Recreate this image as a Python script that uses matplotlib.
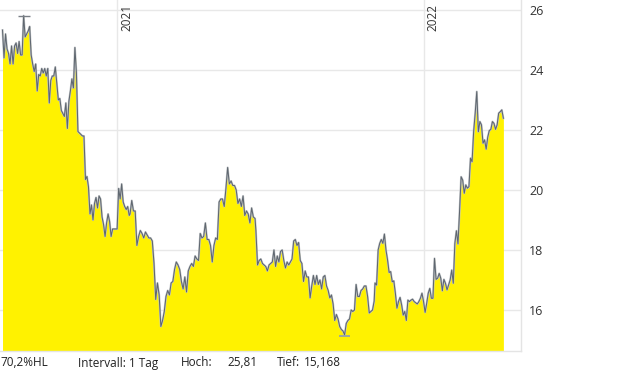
import pandas as pd
import numpy as np
import matplotlib
matplotlib.use('Agg')
import matplotlib.pyplot as plt

plt.rcParams['font.family'] = ['Open Sans', 'DejaVu Sans']

# price series in four stretches (start date, end date, values)
seg_a = ('2020-08-17', '2021-01-15',
         [25.33, 24.4, 25.2, 24.7, 24.55, 24.2, 24.8, 24.2, 24.8, 24.9, 24.55, 24.95, 24.5, 24.5, 25.81,
          25.1, 25.2, 25.3, 25.45, 24.5, 24.2, 23.95, 24.2, 23.3, 23.85, 23.8, 24.05, 23.9, 24.05, 23.8,
          24.05, 22.9, 23.65, 23.8, 23.8, 24.1, 23.55, 23.0, 23.05, 22.65, 22.55, 22.45, 22.9, 22.05, 22.95,
          23.3, 23.7, 23.4, 24.75, 23.9, 21.95, 21.9, 21.85, 21.8, 21.8, 20.35, 20.45, 20.1, 19.2, 19.5,
          19.0, 19.55, 19.75, 19.4, 19.8, 19.7, 19.1, 18.85, 18.45, 18.9, 19.2, 18.95, 18.45, 18.7, 18.7,
          18.7, 18.7, 20.05, 19.7, 20.2, 19.6, 19.45, 19.35, 19.45, 19.15])
seg_b = ('2021-01-16', '2021-06-14',
         [19.2, 19.65, 19.3, 19.3, 18.15, 18.45, 18.65, 18.55, 18.4, 18.6, 18.5, 18.4, 18.4, 18.3, 17.55,
          16.35, 16.9, 16.5, 15.45, 15.65, 15.95, 16.45, 16.65, 16.5, 16.9, 16.95, 17.35, 17.6, 17.5, 17.35,
          16.95, 16.7, 17.1, 16.6, 17.3, 17.45, 17.55, 17.45, 17.8, 17.7, 17.65, 18.55, 18.4, 18.45, 18.9,
          18.35, 18.35, 18.15, 17.6, 18.15, 18.4, 18.35, 19.6, 19.7, 19.7, 19.45, 20.05, 20.75, 20.2, 20.3,
          20.15, 20.15, 20.0, 19.55, 19.7, 19.45, 19.8, 19.15, 19.3, 19.2, 18.9, 19.4, 19.1, 19.05])
seg_c = ('2021-06-15', '2021-11-03',
         [18.65, 17.5, 17.65, 17.7, 17.55, 17.5, 17.45, 17.3, 17.5, 17.55, 17.6, 18.0, 17.45, 17.8, 17.6,
          17.95, 18.0, 17.65, 17.4, 17.6, 17.5, 17.6, 17.7, 18.3, 18.35, 18.15, 18.25, 17.65, 17.55, 16.95,
          17.3, 17.1, 17.1, 16.4, 16.8, 17.15, 16.85, 17.15, 16.85, 17.0, 16.7, 17.1, 17.15, 16.8, 16.65,
          16.4, 16.5, 16.2, 15.65, 15.85, 15.7, 15.45, 15.35, 15.3, 15.168, 15.55, 15.65, 15.7, 16.0, 15.95,
          16.0, 16.85, 16.45, 16.45, 16.65, 16.7, 16.8, 16.8, 16.45, 15.9, 15.95, 16.0, 16.3])
seg_d = ('2021-11-04', '2022-04-06',
         [16.9, 16.83, 18.0, 18.22, 18.35, 18.22, 18.53, 18.0, 17.67, 17.25, 17.28, 16.94, 16.97, 16.56,
          16.06, 16.28, 16.42, 16.17, 15.83, 15.95, 15.65, 16.33, 16.28, 16.33, 16.36, 16.28, 16.24, 16.2,
          16.28, 16.39, 16.56, 16.28, 15.92, 16.22, 16.56, 16.72, 16.39, 16.39, 17.72, 17.02, 17.06, 17.22,
          17.06, 16.64, 17.02, 16.89, 16.67, 16.83, 17.0, 17.33, 16.89, 18.22, 18.64, 18.2, 19.28, 20.44,
          20.33, 19.89, 20.17, 20.06, 20.11, 21.06, 20.94, 21.94, 22.56, 23.28, 21.94, 22.28, 22.17, 21.56,
          21.67, 21.36, 21.76, 21.98, 22.02, 22.28, 22.22, 22.02, 22.17, 22.56, 22.61, 22.67, 22.39])

y_ticks = [16, 18, 20, 22, 24, 26]
years = ['2021-01-01', '2022-01-01']
footer = [('70,2%HL', 0), ('Intervall: 1 Tag', 78), ('Hoch:', 181), ('25,81', 227), ('Tief:', 277), ('15,168', 304)]

dates = []
values = []
for start, end, vals in [seg_a, seg_b, seg_c, seg_d]:
    dates.extend(pd.date_range(start, end, periods=len(vals)))
    values.extend(vals)
df = pd.DataFrame({'Date': dates, 'Close': values})

fig = plt.figure(figsize=(6.2, 3.72), dpi=100)
ax = fig.add_axes([0, 1 - 351/372, 521/620, 351/372])

ax.fill_between(df['Date'], df['Close'], 14.0, color='#fff200', linewidth=0, zorder=2)
ax.plot(df['Date'], df['Close'], color='#c4c7ca', linewidth=1.5, zorder=3)
ax.plot(df['Date'], df['Close'], color='#5f6770', linewidth=0.75, zorder=4)

# high / low markers
hi = df.loc[df['Close'].idxmax()]
lo = df.loc[df['Close'].idxmin()]
half = pd.Timedelta(days=7)
ax.hlines(hi['Close'], hi['Date'] - half, hi['Date'] + half, color='#7a7f86', linewidth=1, zorder=5)
ax.hlines(lo['Close'] - 0.03, lo['Date'] - half, lo['Date'] + half, color='#8f9db3', linewidth=1.2, zorder=5)

ax.set_xlim(pd.Timestamp('2020-08-14'), pd.Timestamp('2022-04-27'))
ax.set_ylim(14.633, 26.333)

for yv in y_ticks:
    ax.axhline(yv, color='#e8e8e8', linewidth=1, zorder=1)
for yr in years:
    ax.axvline(pd.Timestamp(yr), color='#e8e8e8', linewidth=1, zorder=1)
    ax.annotate(yr[:4], xy=(pd.Timestamp(yr), 1), xycoords=('data', 'axes fraction'),
                xytext=(3, -4), textcoords='offset pixels', rotation=90,
                ha='left', va='top', fontsize=8.5, color='#333333')

ax.yaxis.tick_right()
ax.set_yticks(y_ticks)
ax.set_yticklabels([str(t) for t in y_ticks])
ax.tick_params(axis='y', length=0, pad=6, labelsize=9, labelcolor='#333333')
ax.set_xticks([])
for side in ['left', 'top']:
    ax.spines[side].set_visible(False)
for side in ['right', 'bottom']:
    ax.spines[side].set_color('#e4e4e4')
    ax.spines[side].set_linewidth(1)

for txt, px in footer:
    fig.text(px/620, 1 - 363/372, txt, fontsize=8.5, color='#222222', ha='left', va='center')

fig.savefig('out.png', dpi=100)
